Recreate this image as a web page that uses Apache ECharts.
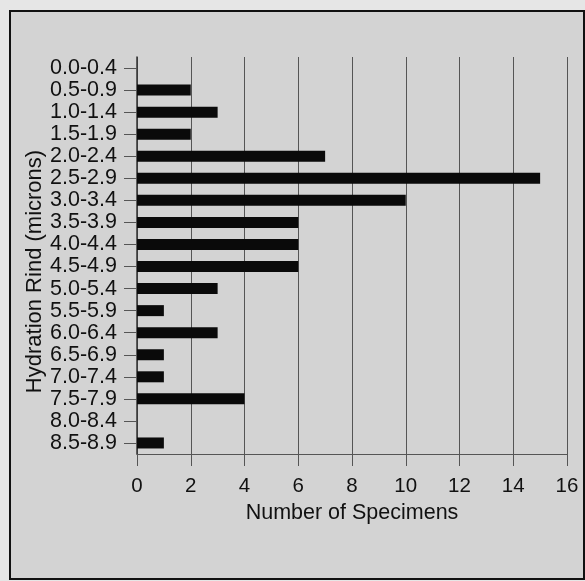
<!DOCTYPE html>
<html><head><meta charset="utf-8">
<script src="https://cdn.jsdelivr.net/npm/echarts@6/dist/echarts.min.js"></script>
<style>html,body{margin:0;padding:0;background:#ececec;}#c{width:585px;height:581px;}</style>
</head><body><div id="c"></div>
<script>
const categories = ["0.0-0.4","0.5-0.9","1.0-1.4","1.5-1.9","2.0-2.4","2.5-2.9","3.0-3.4","3.5-3.9","4.0-4.4","4.5-4.9","5.0-5.4","5.5-5.9","6.0-6.4","6.5-6.9","7.0-7.4","7.5-7.9","8.0-8.4","8.5-8.9"];
const specimens = [0,2,3,2,7,15,10,6,6,6,3,1,3,1,1,4,0,1];
const xTicks = [0,2,4,6,8,10,12,14,16];

const chart = echarts.init(document.getElementById('c'));
const font = 'Liberation Sans, Arial, sans-serif';
chart.setOption({
  animation: false,
  backgroundColor: '#e6e6e6',
  graphic: [
    {type:'rect', z:-10, shape:{x:10,y:11,width:574,height:568}, style:{fill:'#d3d3d3', stroke:'#111', lineWidth:2}}
  ],
  grid: {left:137, right:18, top:57, bottom:127},
  xAxis: {
    type:'value', min:xTicks[0], max:xTicks[xTicks.length-1], interval:2,
    name:'Number of Specimens', nameLocation:'middle', nameGap:48, nameMoveOverlap:false,
    nameTextStyle:{fontFamily:font, fontSize:21.5, color:'#111'},
    axisLine:{show:true, lineStyle:{color:'#555', width:1}},
    axisTick:{show:true, length:12, lineStyle:{color:'#555'}},
    axisLabel:{margin:22, fontFamily:font, fontSize:20.5, color:'#111'},
    splitLine:{show:true, lineStyle:{color:'#555', width:1}}
  },
  yAxis: {
    type:'category', data:categories, inverse:true,
    name:'Hydration Rind (microns)', nameLocation:'middle', nameGap:91, nameMoveOverlap:false,
    nameTextStyle:{fontFamily:font, fontSize:22, color:'#111', padding:[0,32,0,0]},
    axisLine:{show:true, lineStyle:{color:'#333', width:1.5}},
    axisTick:{show:true, alignWithLabel:true, length:13, lineStyle:{color:'#555'}},
    axisLabel:{interval:0, margin:20, fontFamily:font, fontSize:21.5, color:'#111'},
    splitLine:{show:false}
  },
  series: [{
    type:'bar', data:specimens, barWidth:11,
    itemStyle:{color:'#0a0a0a'}
  }]
});
</script></body></html>
